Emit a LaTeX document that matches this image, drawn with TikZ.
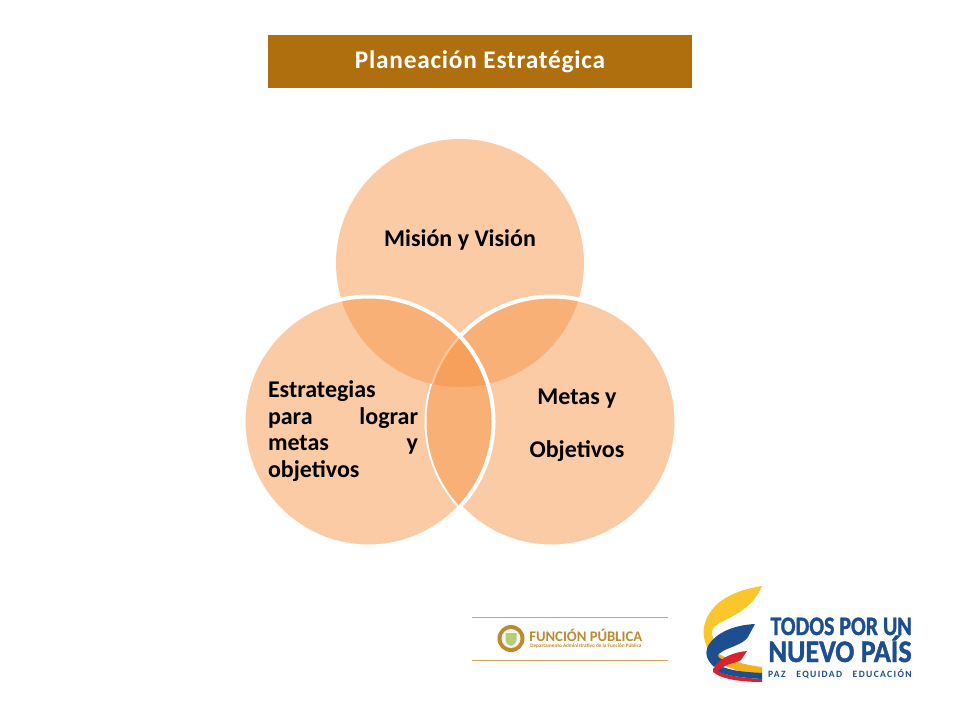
\documentclass[tikz,border=0pt]{standalone}
\usepackage{fontspec}
\setmainfont{Carlito}
\newfontfamily\titlefont[LetterSpace=3]{Carlito}
\newfontfamily\heavy[BoldFeatures={FakeBold=1.5}]{Carlito}
\newfontfamily\spaced[LetterSpace=14]{Carlito}
\definecolor{band}{HTML}{B06F0E}
\definecolor{base}{HTML}{FBCBA6}
\definecolor{lens}{HTML}{F9B076}
\definecolor{triple}{HTML}{F7A05C}
\definecolor{pale}{HTML}{FBC79C}
\definecolor{gold}{HTML}{D2A657}
\definecolor{goldtext}{HTML}{BC8A30}
\definecolor{ylw}{HTML}{FBC52D}
\definecolor{ylwd}{HTML}{F4AE1E}
\definecolor{blu}{HTML}{1D4E8F}
\definecolor{redd}{HTML}{D8232F}
\tikzset{
 lbl/.style={font=\fontsize{18pt}{20pt}\selectfont\bfseries,text=black,inner sep=0pt,align=center},
 venn/.style={circle,fill=base,inner sep=0pt,minimum size=186pt},
 vennb/.style={circle,fill=base,inner sep=0pt,minimum size=187.5pt}
}
\begin{document}
\begin{tikzpicture}[x=0.75pt,y=-0.75pt]
\useasboundingbox (0,0) rectangle (960,720);
\node[fill=band,minimum width=318pt,minimum height=39.75pt,inner sep=0pt,text=white,font=\titlefont\fontsize{19pt}{22pt}\selectfont\bfseries] (title) at (480,61.5) {\smash{\raisebox{-5.6pt}{Planeación Estratégica}}};
\coordinate (T) at (460,263);
\coordinate (L) at (368.5,421.5);
\coordinate (R) at (551.5,421.5);
\node[venn] (top) at (T) {};
\node[vennb] (right) at (R) {};
\node[vennb] (left) at (L) {};
\begin{scope}\clip (T) circle[radius=124];\fill[lens] (L) circle[radius=125];\fill[lens] (R) circle[radius=125];\end{scope}
\draw[white,line width=3pt] (R) circle[radius=125];
\begin{scope}\clip (L) circle[radius=125];
\fill[lens] (R) circle[radius=125];
\begin{scope}\clip (T) circle[radius=124];
\fill[lens] (L) circle[radius=125];
\fill[triple] (R) circle[radius=125];
\draw[pale,line width=1.5pt] (R) circle[radius=125];
\end{scope}\end{scope}
\draw[white,line width=3pt] (L) circle[radius=125];
\node[lbl] (mv) at (460,239.5) {Misión y Visión};
\node[lbl] (mo) at (577,425.5) {Metas y\\[20pt]Objetivos};
\node[lbl,text width=112.5pt,align=left] (es) at (343,431) {Estrategias\\para\hfill lograr\\metas\hfill y\\objetivos};
% Funcion Publica logo
\draw[gold,line width=0.9pt] (472,617.5) -- (668,617.5);
\draw[gold,line width=0.9pt] (472,660.5) -- (668,660.5);
\fill[goldtext] (511,638.5) circle[radius=13.5];
\fill[white!90!gold] (511,638.5) circle[radius=9.5];
\fill[goldtext!70!green!60!white] (505.5,633) -- (516.5,633) -- (516.5,640) .. controls (516,644) and (513,645) .. (511,646) .. controls (509,645) and (506,644) .. (505.5,640) -- cycle;
\node[inner sep=0pt,anchor=base west,text=goldtext,font=\fontsize{11pt}{11pt}\selectfont\bfseries,text depth=0pt] (fp) at (529,641) {FUNCIÓN PÚBLICA};
\node[inner sep=0pt,anchor=base west,text=goldtext,font=\fontsize{3.9pt}{4pt}\selectfont\bfseries,text height=2.6pt,text depth=0pt] (fps) at (530,647.5) {Departamento Administrativo de la Función Pública};
% Todos por un nuevo pais logo
\fill[ylw] (762,586) .. controls (736,590) and (714,600) .. (706,620) .. controls (701,632) and (704,644) .. (712,656) -- (722,652) .. controls (714,642) and (709,634) .. (714,627) .. controls (724,618) and (750,614) .. (762,586) -- cycle;
\fill[ylwd] (714,650) .. controls (725,660) and (745,665) .. (762,667) -- (762,675) .. controls (742,673) and (725,668) .. (714,658) -- cycle;
\fill[blu] (755,624) .. controls (735,625) and (716,632) .. (708,646) .. controls (704,655) and (708,661) .. (714,667) -- (723,660) .. controls (717,657) and (717,655) .. (720,653) .. controls (728,647) and (743,645) .. (748,637) -- cycle;
\fill[redd] (713,668) .. controls (722,676) and (745,678) .. (762,679) -- (762,682) .. controls (745,682) and (722,680) .. (713,672) -- cycle;
\fill[blu] (718,665) .. controls (730,671) and (745,672) .. (762,673) -- (762,679) .. controls (745,678) and (725,676) .. (715,670) -- cycle;
\fill[redd] (747,651) .. controls (735,652) and (720,657) .. (714,668) .. controls (713,671) and (714,672) .. (716,672) -- (722,668) .. controls (726,664) and (736,663) .. (741,660) -- cycle;
\node[inner sep=0pt,anchor=base east,text=blu,font=\heavy\fontsize{20pt}{20pt}\selectfont\bfseries,text depth=0pt] (tp) at (912,635) {\scalebox{0.82}[1]{TODOS POR UN}};
\node[inner sep=0pt,anchor=base east,text=blu,font=\heavy\fontsize{23.5pt}{23.5pt}\selectfont\bfseries,text depth=0pt] (nv) at (912,662) {\scalebox{0.9}[1]{NUEVO PAÍS}};
\node[inner sep=0pt,anchor=base east,text=blu,font=\spaced\fontsize{7.2pt}{8pt}\selectfont\bfseries,text depth=0pt] (pz) at (912,677) {PAZ\hspace{8pt}EQUIDAD\hspace{8pt}EDUCACIÓN};
\end{tikzpicture}
\end{document}
